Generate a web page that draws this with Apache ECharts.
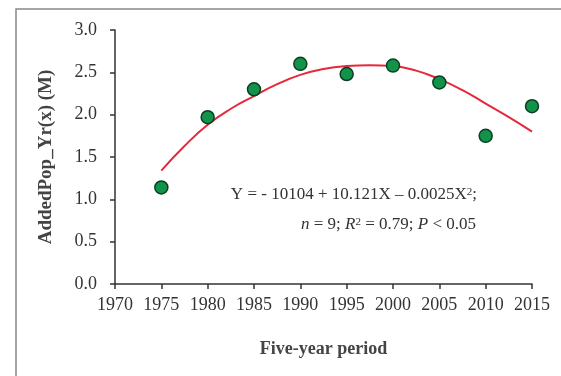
<!DOCTYPE html>
<html>
<head>
<meta charset="utf-8">
<script src="https://cdn.jsdelivr.net/npm/echarts@6/dist/echarts.min.js"></script>
<style>
  html, body { margin: 0; padding: 0; background: #fff; }
  #chart { width: 561px; height: 376px; }
</style>
</head>
<body>
<div id="chart"></div>
<script>
const YEARS = [1975, 1980, 1985, 1990, 1995, 2000, 2005, 2010, 2015];
const ADDED_POP = [1.14, 1.97, 2.30, 2.60, 2.48, 2.58, 2.38, 1.75, 2.10];
// fitted curve
const FIT_YEARS = [1975, 1977.5, 1980, 1982.5, 1985, 1987.5, 1990, 1992.5, 1995, 1997.5, 2000, 2002.5, 2005, 2007.5, 2010, 2012.5, 2015];
const FIT_VALUES = [1.34, 1.63, 1.88, 2.07, 2.22, 2.36, 2.47, 2.54, 2.575, 2.585, 2.575, 2.52, 2.42, 2.29, 2.13, 1.97, 1.80];

const FONT = "Liberation Serif";
const TEXT_COLOR = "#333";

const chartElement = document.getElementById("chart");
const chart = echarts.init(chartElement);

const option = {
  animation: false,
  grid: { left: 115, right: 29, top: 30, bottom: 92 },
  xAxis: {
    type: "value",
    min: 1970,
    max: 2015,
    interval: 5,
    name: "Five-year period",
    nameLocation: "middle",
    nameGap: 56,
    nameTextStyle: { fontFamily: FONT, fontSize: 18, fontWeight: "bold", color: "#444" },
    axisLine: { lineStyle: { color: "#333", width: 1.5 } },
    axisTick: { inside: false, length: 5, lineStyle: { color: "#333", width: 1.5 } },
    axisLabel: { fontFamily: FONT, fontSize: 18, color: TEXT_COLOR, margin: 12, formatter: (v) => String(v) },
    splitLine: { show: false },
  },
  yAxis: {
    type: "value",
    min: 0,
    max: 3,
    interval: 0.5,
    name: "AddedPop_Yr(x) (M)",
    nameLocation: "middle",
    nameGap: 59,
    nameTextStyle: { fontFamily: FONT, fontSize: 19, fontWeight: "bold", color: "#444" },
    axisLine: { show: true, lineStyle: { color: "#333", width: 1.5 } },
    axisTick: { show: true, length: 5, lineStyle: { color: "#333", width: 1.5 } },
    axisLabel: {
      fontFamily: FONT,
      fontSize: 18,
      color: TEXT_COLOR,
      margin: 18,
      formatter: (v) => v.toFixed(1),
    },
    splitLine: { show: false },
  },
  series: [
    {
      type: "line",
      data: FIT_YEARS.map((y, i) => [y, FIT_VALUES[i]]),
      smooth: true,
      showSymbol: false,
      lineStyle: { color: "#e5283c", width: 2 },
      z: 2,
    },
    {
      type: "scatter",
      data: YEARS.map((y, i) => [y, ADDED_POP[i]]),
      symbolSize: 13,
      itemStyle: { color: "#11934a", borderColor: "#0b3f22", borderWidth: 1.5, opacity: 1 },
      z: 3,
    },
  ],
  graphic: [
    {
      type: "rect",
      shape: { x: 16, y: 9, width: 700, height: 500 },
      style: { fill: "none", stroke: "#888", lineWidth: 1.5 },
      silent: true,
    },
    {
      type: "text",
      x: 477,
      y: 195,
      style: {
        text: "Y = - 10104 + 10.121X \u2013 0.0025X{sup|2};",
        align: "right",
        verticalAlign: "middle",
        fontFamily: FONT,
        fontSize: 17,
        fill: TEXT_COLOR,
        rich: { sup: { fontFamily: FONT, fontSize: 11, verticalAlign: "top", padding: [0, 0, 6, 0], fill: TEXT_COLOR } },
      },
    },
    {
      type: "text",
      x: 476,
      y: 225,
      style: {
        text: "{i|n} = 9; {i|R}{sup|2} = 0.79; {i|P} < 0.05",
        align: "right",
        verticalAlign: "middle",
        fontFamily: FONT,
        fontSize: 17,
        fill: TEXT_COLOR,
        rich: {
          i: { fontFamily: FONT, fontSize: 17, fontStyle: "italic", fill: TEXT_COLOR },
          sup: { fontFamily: FONT, fontSize: 11, verticalAlign: "top", padding: [0, 0, 6, 0], fill: TEXT_COLOR },
        },
      },
    },
  ],
};
chart.setOption(option);
</script>
</body>
</html>
